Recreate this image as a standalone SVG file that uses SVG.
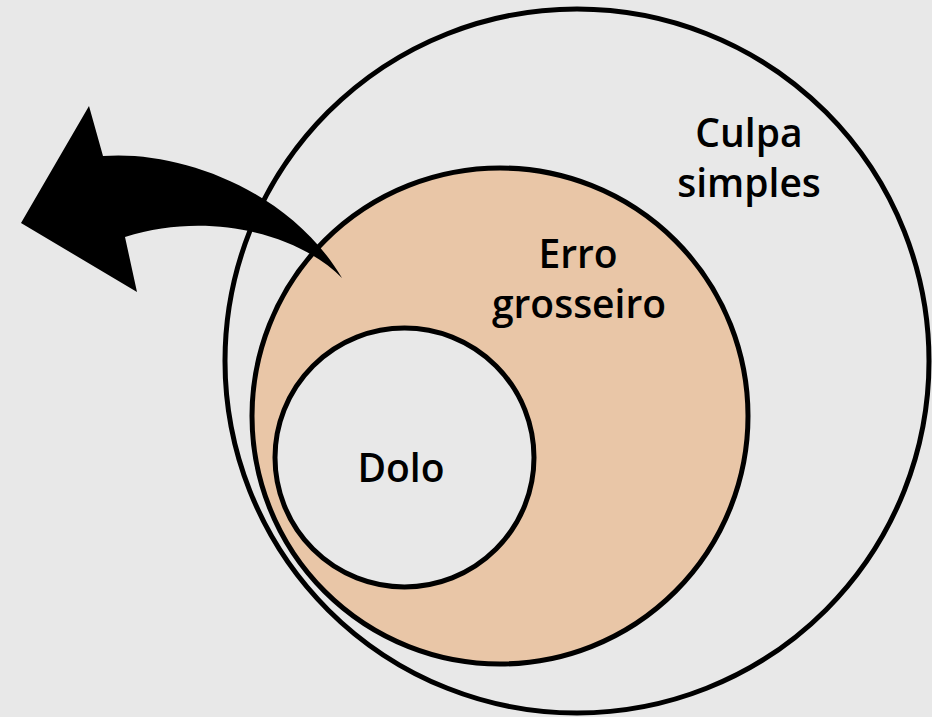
<svg xmlns="http://www.w3.org/2000/svg" width="932" height="717" viewBox="0 0 932 717">
<style>
.ring{stroke:#000;stroke-width:5}
.lbl{font-family:"Open Sans","Noto Sans","DejaVu Sans",sans-serif;font-weight:600;font-size:39px;fill:#000;text-anchor:middle}
</style>
<rect width="932" height="717" fill="#e8e8e8"/>
<g id="culpa-simples">
<circle class="ring" cx="577" cy="361" r="352" fill="#e8e8e8"/>
<text class="lbl" x="749" y="147">Culpa</text>
<text class="lbl" x="749" y="197">simples</text>
</g>
<g id="erro-grosseiro">
<circle class="ring" cx="500" cy="416" r="248" fill="#e9c6a7"/>
<text class="lbl" x="578" y="268">Erro</text>
<text class="lbl" x="579" y="318">grosseiro</text>
</g>
<g id="dolo">
<circle class="ring" cx="404.5" cy="457.5" r="129.5" fill="#e8e8e8"/>
<text class="lbl" x="401" y="482">Dolo</text>
</g>
<g id="connectors">
<path d="M21,223 L89,106 L103,156 C180,150 290,190 342,278 C300,235 210,210 125,237 L137,292 Z" fill="#000"/>
</g>
</svg>
